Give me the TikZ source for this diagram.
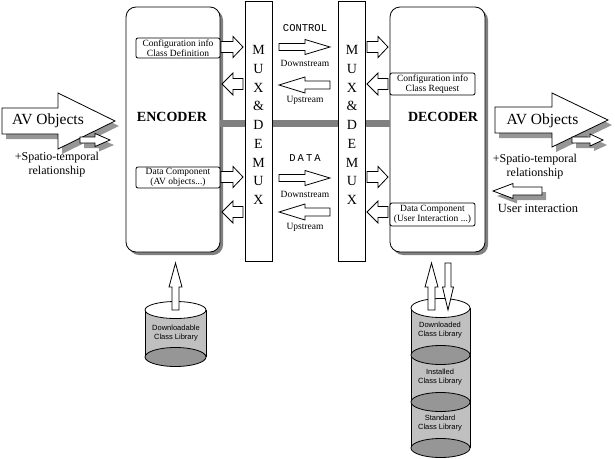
\documentclass[tikz,border=0pt]{standalone}
\usepackage{fontspec}
\setmainfont{Liberation Serif}
\newfontfamily\ctrlfont{Liberation Mono}
\newfontfamily\ctrlwide[LetterSpace=20]{Liberation Mono}
\newfontfamily\libfont{Liberation Sans}
\usetikzlibrary{shadows}
\definecolor{barcol}{RGB}{128,128,128}
\definecolor{shadegray}{RGB}{150,150,150}
\definecolor{cylbody}{RGB}{192,192,192}
\definecolor{cylend}{RGB}{150,150,150}
% block arrows: [style] tail, base of head, tip, y, half shaft, half head
\newcommand{\blkarrowh}[7][blk]{%
\filldraw[#1] (#2,#5-#6) -- (#3,#5-#6) -- (#3,#5-#7) -- (#4,#5) -- (#3,#5+#7) -- (#3,#5+#6) -- (#2,#5+#6) -- cycle;}
% [style] x, tail, base of head, tip, half shaft, half head
\newcommand{\blkarrowv}[7][blk]{%
\filldraw[#1] (#2-#6,#3) -- (#2-#6,#4) -- (#2-#7,#4) -- (#2,#5) -- (#2+#7,#4) -- (#2+#6,#4) -- (#2+#6,#3) -- cycle;}
\tikzset{
blk/.style={draw=black, fill=white},
avshade/.style={fill=shadegray, draw=none, shift={(4,5)}},
unit/.style={draw, fill=white, rounded corners=10pt, minimum height=245pt,
  drop shadow={shadow xshift=3pt, shadow yshift=-3pt, fill=barcol, opacity=1}},
mux/.style={draw, fill=white, minimum width=27pt, minimum height=260pt},
muxtext/.style={align=center, font=\fontsize{14pt}{18.75pt}\selectfont},
infobox/.style={draw, fill=white, rounded corners=2pt, minimum width=85pt, inner sep=0.5pt,
  align=center, font=\fontsize{9.5pt}{9.5pt}\selectfont},
unitname/.style={font=\fontsize{14pt}{16pt}\selectfont\bfseries},
small/.style={font=\fontsize{9.5pt}{11pt}\selectfont},
chan/.style={font=\ctrlfont\fontsize{10.5pt}{12pt}\selectfont},
note/.style={align=center, font=\fontsize{12pt}{14pt}\selectfont},
cyllbl/.style={align=center, font=\libfont\fontsize{7.5pt}{9pt}\selectfont},
cylside/.style={fill=cylbody},
cylring/.style={draw, fill=cylend},
cyltop/.style={draw, fill=white},
bus/.style={draw=barcol, line width=7pt}
}
\begin{document}
\begin{tikzpicture}[x=1pt, y=-1pt, line width=0.8pt]
\useasboundingbox (0,0) rectangle (615,458);
%%%%% Encoder and decoder %%%%%
\node[unit, minimum width=94pt] (enc) at (173,129.5) {};
\node[unit, minimum width=95pt] (dec) at (437.5,129.5) {};
\node[unitname] (encname) at (172,117) {ENCODER};
\node[unitname] (decname) at (443,117) {DECODER};
\draw[bus] ([yshift=6pt]enc.east) -- ([yshift=6pt]dec.west);
%%%%% MUX boxes %%%%%
\foreach \mx/\nm in {258.5/muxa, 352/muxb}{
\node[mux] (\nm) at (\mx,131) {};
\node[muxtext] (\nm txt) at (\mx,125) {M\\U\\X\\\&\\D\\E\\M\\U\\X};
}
%%%%% Info boxes %%%%%
\node[infobox, anchor=east, minimum width=84pt, minimum height=20pt] (enccfg) at (enc.east |- 0,48) {Configuration info\\Class Definition};
\node[infobox, anchor=east, minimum width=84pt, minimum height=21pt] (encdat) at (enc.east |- 0,177.5) {Data Component\\(AV objects...)};
\node[infobox, anchor=west, minimum height=22pt] (deccfg) at (dec.west |- 0,84) {Configuration info\\Class Request};
\node[infobox, anchor=west, minimum height=23pt] (decdat) at (dec.west |- 0,214.5) {Data Component\\(User Interaction ...)};
%%%%% Arrows to and from the MUX %%%%%
\foreach \ya/\yb in {47/84, 177/212}{
\blkarrowh{221}{233}{243}{\ya}{5.5}{10.5}
\blkarrowh{243}{233}{222}{\yb}{5.5}{11}
\blkarrowh{367}{378}{388}{\ya}{5.5}{10.5}
\blkarrowh{388}{378}{367}{\yb}{5.5}{11}
}
%%%%% Channels %%%%%
\node[chan] (ctrl) at (305,28) {CONTROL};
\node[chan, font=\ctrlwide\fontsize{10.5pt}{12pt}\selectfont] (data) at (305,158) {DATA};
\foreach \yd/\yu in {47/85, 178/212}{
\blkarrowh{279}{305}{330}{\yd}{3.5}{7.5}
\blkarrowh{330}{305}{279}{\yu}{4}{8}
\node[small] (down\yd) at (305,\yd+16) {Downstream};
\node[small] (up\yu) at (305,\yu+15) {Upstream};
}
%%%%% AV objects %%%%%
\blkarrowh[avshade]{2}{58}{115}{121}{13}{28}
\blkarrowh{2}{58}{115}{121}{13}{28}
\blkarrowh[avshade]{80}{95}{110}{140}{3}{6.5}
\blkarrowh{80}{95}{110}{140}{3}{6.5}
\node[font=\fontsize{15.5pt}{17pt}\selectfont] (avin) at (48,121) {AV Objects};
\node[note] (stin) at (57,165) {+Spatio-temporal\\relationship};
\blkarrowh[avshade]{495}{552}{608}{120}{13}{27}
\blkarrowh{495}{552}{608}{120}{13}{27}
\blkarrowh[avshade]{572}{590}{603}{140}{3}{6}
\blkarrowh{572}{590}{603}{140}{3}{6}
\node[font=\fontsize{15.5pt}{17pt}\selectfont] (avout) at (542.5,121) {AV Objects};
\node[note] (stout) at (535,167) {+Spatio-temporal\\relationship};
\blkarrowh[avshade]{542}{513}{493}{191}{4}{7.5}
\blkarrowh{542}{513}{493}{191}{4}{7.5}
\node[font=\fontsize{12.5pt}{14pt}\selectfont] (user) at (538,208) {User interaction};
%%%%% Class libraries %%%%%
\fill[cylside] (145,310) rectangle (206,357);
\draw (145,310) -- (145,357) (206,310) -- (206,357);
\filldraw[cylring] (175.5,357) ellipse (30.5 and 9.5);
\filldraw[cyltop] (175.5,310) ellipse (30.5 and 8.5);
\node[cyllbl] (dlib) at (176,333) {Downloadable\\Class Library};
\fill[cylside] (411,308) rectangle (470,448);
\draw (411,308) -- (411,448) (470,308) -- (470,448);
\foreach \yy in {355,402,448}{
\filldraw[cylring] (440.5,\yy) ellipse (29.5 and 9.5);
}
\filldraw[cyltop] (440.5,308) ellipse (29.5 and 9.5);
\node[cyllbl] (dllib) at (440,330.5) {Downloaded\\Class Library};
\node[cyllbl] (inlib) at (440,377.5) {Installed\\Class Library};
\node[cyllbl] (stlib) at (440,423.5) {Standard\\Class Library};
\blkarrowv{175.5}{310}{287}{263}{3.5}{6.5}
\blkarrowv{431.5}{310}{287}{263}{3.5}{6.5}
\blkarrowv{448}{263}{287}{310}{3}{5.5}
\end{tikzpicture}
\end{document}
